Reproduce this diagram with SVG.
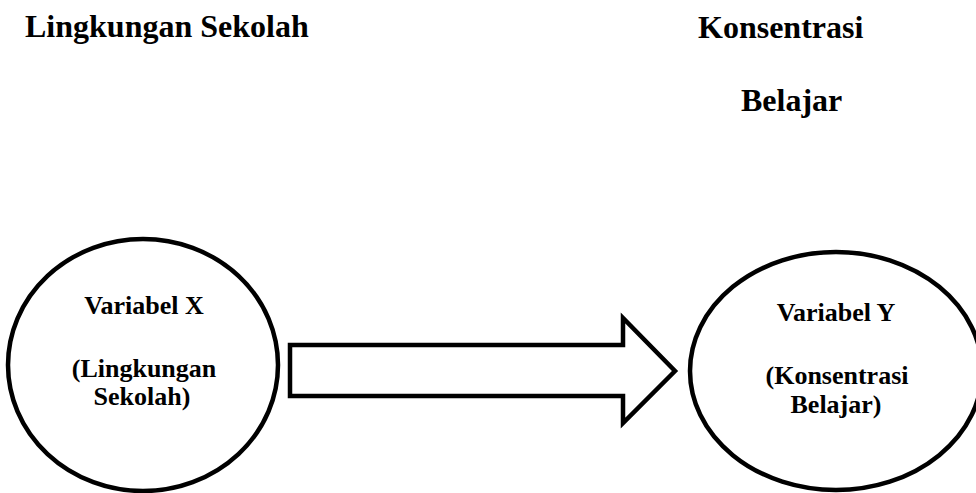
<svg xmlns="http://www.w3.org/2000/svg" width="976" height="493" viewBox="0 0 976 493">
  <style>
    text { font-family: 'Liberation Serif', 'Times New Roman', Tinos, 'DejaVu Serif', serif; font-weight: 700; fill: #000; }
    .head { font-size: 32px; }
    .lbl { font-size: 26px; text-anchor: middle; }
    .shape { fill: #fff; stroke: #000; stroke-width: 4.5; }
  </style>
  <rect width="976" height="493" fill="#fff"/>
  <g id="heading-x">
    <text class="head" x="25" y="37">Lingkungan Sekolah</text>
  </g>
  <g id="heading-y">
    <text class="head" x="698" y="38">Konsentrasi</text>
    <text class="head" x="741" y="111">Belajar</text>
  </g>
  <g id="connectors">
    <polygon class="shape" points="290,345 623,345 623,318 675,371 623,423 623,396 290,396"/>
  </g>
  <g id="node-x">
    <ellipse class="shape" cx="143" cy="365" rx="135" ry="126"/>
    <text class="lbl" x="144" y="314">Variabel X</text>
    <text class="lbl" x="144" y="377">(Lingkungan</text>
    <text class="lbl" x="142" y="405">Sekolah)</text>
  </g>
  <g id="node-y">
    <ellipse class="shape" cx="836" cy="371" rx="146" ry="119"/>
    <text class="lbl" x="836" y="321">Variabel Y</text>
    <text class="lbl" x="837" y="384">(Konsentrasi</text>
    <text class="lbl" x="836" y="413">Belajar)</text>
  </g>
</svg>
